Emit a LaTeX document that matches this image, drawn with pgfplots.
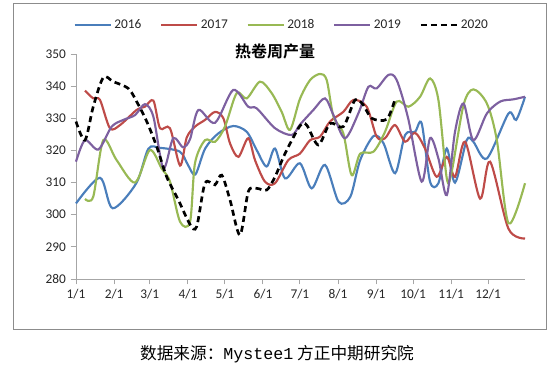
\documentclass[border=0pt]{standalone}
\usepackage{fontspec}
\setmainfont{Carlito}
\setmonofont{Liberation Mono}
\newfontfamily\cjk{Noto Sans CJK SC}
\newfontfamily\cjkb{Noto Sans CJK SC}[BoldFont={* Bold}]
\usepackage{pgfplots}
\pgfplotsset{compat=1.18}
\definecolor{c16}{HTML}{4A7EBB}
\definecolor{c17}{HTML}{BE4B48}
\definecolor{c18}{HTML}{98B954}
\definecolor{c19}{HTML}{7D60A0}
\definecolor{axg}{HTML}{A6A6A6}
\definecolor{frameg}{HTML}{8C8C8C}
\begin{document}
\begin{tikzpicture}
\path[use as bounding box] (0pt,0pt) rectangle (416.25pt,278.25pt);
\draw[frameg,line width=0.75pt] (9.75pt,31.5pt) rectangle (409.5pt,275.25pt);
\node[font=\cjk\fontsize{12.5}{14}\selectfont] at (207.75pt,12.75pt) {数据来源：\texttt{Mystee1} 方正中期研究院};
\node[font=\cjkb\bfseries\fontsize{12}{14}\selectfont] at (206.25pt,240pt) {热卷周产量};
\begin{axis}[
  at={(57pt,69pt)}, anchor=south west,
  scale only axis, width=336.75pt, height=168.75pt,
  xmin=0, xmax=365, ymin=280, ymax=350,
  axis lines*=left,
  axis line style={axg, line width=0.75pt},
  xtick={0,31,60,91,121,152,182,213,244,274,305,335},
  xticklabels={1/1,2/1,3/1,4/1,5/1,6/1,7/1,8/1,9/1,10/1,11/1,12/1},
  ytick={280,290,...,350},
  tick align=outside,
  major tick length=4pt,
  tick style={axg, line width=0.75pt},
  ticklabel style={font=\fontsize{10}{12}\selectfont, text=black!85},
  /pgf/number format/assume math mode=true,
  legend columns=5,
  legend style={at={(0.459,1.129)}, anchor=center, draw=none, fill=none,
    font=\fontsize{10}{12}\selectfont, text=black!85,
    /tikz/every even column/.append style={column sep=12pt}},
  legend image code/.code={\draw[#1] (0pt,0pt) -- (27pt,0pt);},
  every axis plot/.append style={line width=1.6pt, smooth, tension=0.5},
  clip=false,
]
\addplot[c16] coordinates {
(0,303.5) (19.5,311.5) (29.8,302) (49,309.8) (58.8,320.5) (68.3,320.8) (84.5,319.6) (91,315.5) (97,312.5) (105,320.6) (115.7,325.3) (127.8,327.6) (138.8,325.8) (146.9,320.1) (155,315) (161.8,320.6) (170,311.3) (182,316) (191.6,308.2) (202.4,315.5) (213.5,304) (223,305.6) (231,317) (242,324.5) (250,322.2) (259.4,312.9) (267.5,324.8) (275.6,325.8) (281,328.4) (287.8,310.3) (294.6,309.8) (301.4,320.6) (308.1,310) (317.6,323.2) (323,322.7) (334,317.5) (351.6,331.5) (357.8,329.5) (365,336.7)
};
\addlegendentry{2016}
\addplot[c17] coordinates {
(7.3,338.6) (14,336.2) (19.5,335.7) (27.6,326.9) (35.8,327.9) (49.3,332.6) (56,333.6) (62.9,335.5) (68.3,326.9) (76.4,326.9) (84.6,315.3) (90,324) (96.7,327.4) (104.9,329.5) (113,332) (119.8,330) (125.2,322.2) (132,318) (140,323.8) (145.5,317) (153.6,310.3) (161.8,309.8) (172.6,317) (182,319) (190.3,323.2) (198.4,324.3) (206.5,329) (217.3,332) (225.5,335.7) (236.3,333.6) (244.4,324.3) (251.2,323.8) (259.3,327.9) (267.5,322.7) (275.6,325.5) (283.7,320.6) (293.2,311.8) (301.4,318) (308.1,311.8) (316.3,322.7) (328.5,305) (336.6,316.5) (351.5,295.7) (365,292.6)
};
\addlegendentry{2017}
\addplot[c18] coordinates {
(7.3,304.9) (14,305.6) (22.2,323.2) (33,317) (48,310) (60,320.1) (69.6,314.4) (76.4,310.3) (84.6,297.8) (92.7,297.8) (96.7,316) (104.9,323.2) (113,322.7) (121.1,327.4) (130.6,337.8) (138.8,336.2) (149.6,341.4) (159.1,337.8) (167.2,332) (174,326.4) (182,336) (190.3,341.9) (198.4,343.8) (203.8,341.9) (209.3,330.5) (217.3,325.3) (224.1,312.3) (231,319) (241.8,319.6) (251.2,325.8) (260.7,335.2) (270.2,333.6) (279.7,336.7) (287.8,342.4) (294.6,335.7) (301.4,311.3) (305.4,313.4) (315,334.1) (323,339) (334,334.6) (342.1,323.2) (351.6,297.3) (365,309.8)
};
\addlegendentry{2018}
\addplot[c19] coordinates {
(0,316.5) (7.3,323.2) (18.2,320.3) (29,327.4) (38.5,329.5) (48,331) (56,334.4) (62.9,330.5) (71,314.4) (79,323.8) (87,321) (92.7,323.5) (99.5,332.6) (113,328.6) (127.8,338.8) (140,333.6) (146.9,333.1) (161.8,326.9) (175.4,324.8) (182,328) (193,332.6) (202.4,336.2) (209.3,331) (218.7,323.8) (229.6,331.6) (237.7,339.8) (244.4,339.3) (254,343.5) (260.7,341.9) (270,330) (281,310.3) (287.8,323.8) (294.6,317.5) (301.4,306.1) (308.1,325.8) (315,334.6) (323,323.2) (334,331.5) (344.8,335.2) (355.6,335.9) (365,336.7)
};
\addlegendentry{2019}
\addplot[black, line width=2pt, dash pattern=on 4.5pt off 3pt] coordinates {
(0,329) (7.3,323.2) (14,333.6) (22.2,342.7) (30.3,341.4) (42.5,339.3) (49.3,335.2) (57.5,329) (65.6,321.2) (73.7,311.8) (83.2,304.6) (92.7,297) (98.1,296.3) (104.9,309.8) (113,309.3) (118.5,312.3) (125.2,304.6) (133.3,293.7) (140.1,307.2) (146.9,308.2) (155,307.7) (161.8,311.8) (169.9,319) (182,327.6) (187.5,327.9) (197,321.7) (206.5,328.4) (217.3,327.4) (226.8,335.7) (233.6,334.1) (240.4,330) (252.6,329.7) (259.3,335.9)
};
\addlegendentry{2020}
\end{axis}
\end{tikzpicture}
\end{document}
